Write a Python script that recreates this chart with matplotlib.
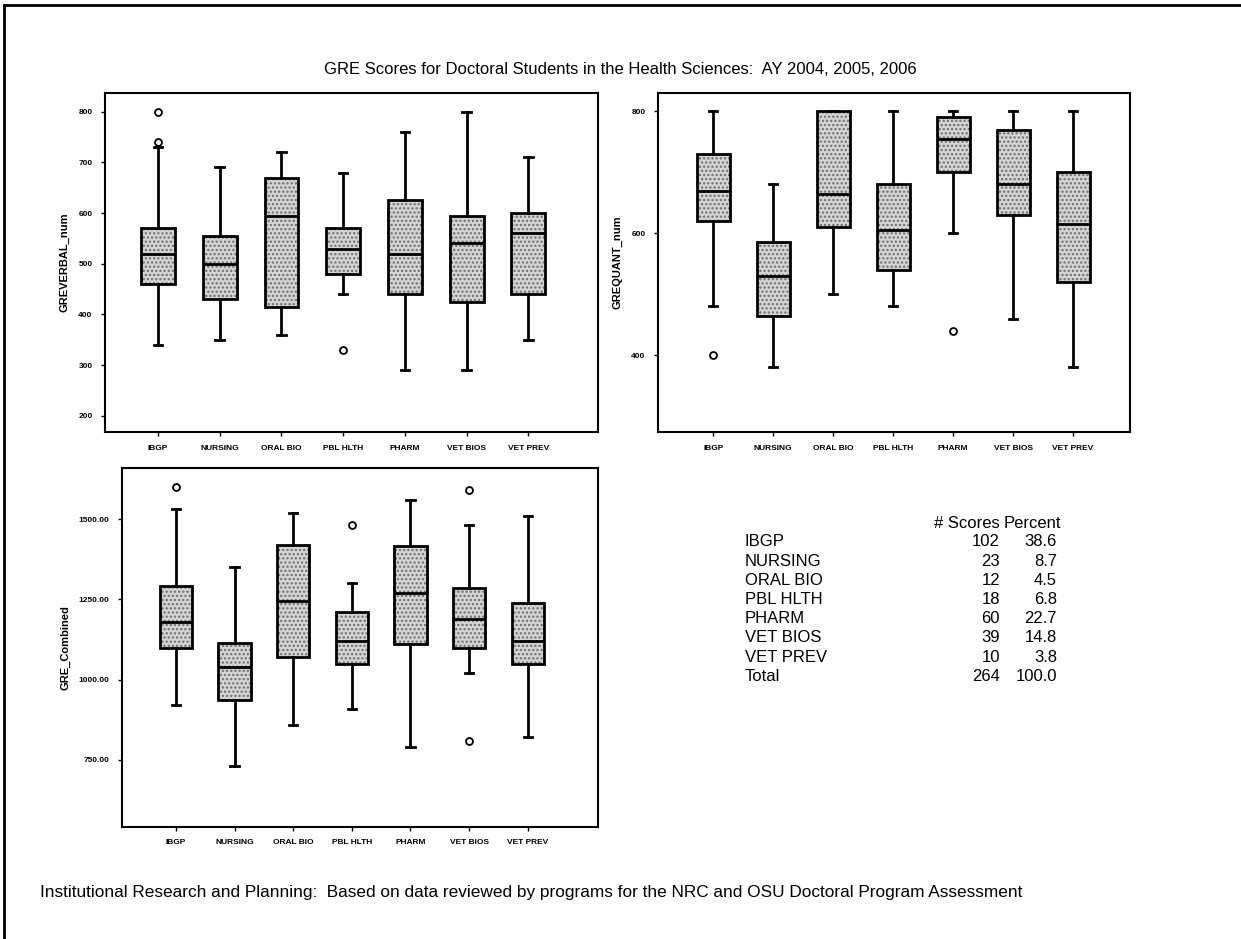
import matplotlib
matplotlib.use("Agg")
import matplotlib.pyplot as plt
from matplotlib.patches import PathPatch
from matplotlib.lines import Line2D

plt.rcParams['font.family'] = ['Liberation Sans', 'DejaVu Sans']
plt.rcParams['hatch.linewidth'] = 1.1

programs = ["IBGP", "NURSING", "ORAL BIO", "PBL HLTH", "PHARM", "VET BIOS", "VET PREV"]

# GRE Verbal: whisker low, Q1, median, Q3, whisker high, outliers
verbal_low = [340, 350, 360, 440, 290, 290, 350]
verbal_q1 = [460, 430, 415, 480, 440, 425, 440]
verbal_med = [520, 500, 595, 530, 520, 540, 560]
verbal_q3 = [570, 555, 670, 570, 625, 595, 600]
verbal_high = [730, 690, 720, 680, 760, 800, 710]
verbal_out = [[740, 800], [], [], [330], [], [], []]

# GRE Quantitative
quant_low = [480, 380, 500, 480, 600, 460, 380]
quant_q1 = [620, 465, 610, 540, 700, 630, 520]
quant_med = [670, 530, 665, 605, 755, 680, 615]
quant_q3 = [730, 585, 800, 680, 790, 770, 700]
quant_high = [800, 680, 800, 800, 800, 800, 800]
quant_out = [[400], [], [], [], [440], [], []]

# GRE Combined
comb_low = [920, 730, 860, 910, 790, 1020, 820]
comb_q1 = [1100, 935, 1070, 1050, 1110, 1100, 1050]
comb_med = [1180, 1040, 1245, 1120, 1270, 1190, 1120]
comb_q3 = [1290, 1115, 1420, 1210, 1415, 1285, 1240]
comb_high = [1530, 1350, 1520, 1300, 1560, 1480, 1510]
comb_out = [[1600], [], [], [1480], [], [1590, 810], []]

# Table
table_names = ["IBGP", "NURSING", "ORAL BIO", "PBL HLTH", "PHARM", "VET BIOS", "VET PREV", "Total"]
table_counts = ["102", "23", "12", "18", "60", "39", "10", "264"]
table_pct = ["38.6", "8.7", "4.5", "6.8", "22.7", "14.8", "3.8", "100.0"]

title = "GRE Scores for Doctoral Students in the Health Sciences:  AY 2004, 2005, 2006"
footer = ("Institutional Research and Planning:  Based on data reviewed by programs "
          "for the NRC and OSU Doctoral Program Assessment")

W, H = 1241, 939
fig = plt.figure(figsize=(W / 100, H / 100), dpi=100)


def ax_px(x0, y0, x1, y1):
    return fig.add_axes([x0 / W, 1 - y1 / H, (x1 - x0) / W, (y1 - y0) / H])


def draw_box(ax, low, q1, med, q3, high, outs, ylabel, yticks, ytl, ylim, xlim):
    stats = []
    for i, name in enumerate(programs):
        stats.append(dict(label=name, whislo=low[i], q1=q1[i], med=med[i],
                          q3=q3[i], whishi=high[i], fliers=outs[i]))
    res = ax.bxp(stats, positions=range(1, len(programs) + 1), widths=0.55,
                 patch_artist=True, showfliers=True, capwidths=0.14,
                 boxprops=dict(facecolor='#d4d4d4', edgecolor='#6e6e6e', linewidth=0),
                 whiskerprops=dict(color='black', linewidth=2),
                 capprops=dict(color='black', linewidth=2),
                 medianprops=dict(color='black', linewidth=2),
                 flierprops=dict(marker='o', markerfacecolor='white',
                                 markeredgecolor='black', markersize=5,
                                 markeredgewidth=1.3))
    for b in res['boxes']:
        b.set_hatch('....')
        b.set_zorder(2)
        ax.add_patch(PathPatch(b.get_path(), fill=False, edgecolor='black',
                               linewidth=2, zorder=3))
    for m in res['medians']:
        m.set_zorder(4)
    ax.set_xlim(*xlim)
    ax.set_ylim(*ylim)
    ax.set_yticks(yticks)
    ax.set_yticklabels(ytl, fontsize=6, fontweight='bold')
    ax.set_xticks(range(1, len(programs) + 1))
    ax.set_xticklabels(programs, fontsize=6, fontweight='bold')
    ax.tick_params(axis='both', length=3, width=1, pad=6)
    ax.set_ylabel(ylabel, fontsize=8, fontweight='bold', labelpad=6)
    for s in ax.spines.values():
        s.set_linewidth(1.5)


ax1 = ax_px(105, 93, 598, 432)
draw_box(ax1, verbal_low, verbal_q1, verbal_med, verbal_q3, verbal_high, verbal_out,
         "GREVERBAL_num", [200, 300, 400, 500, 600, 700, 800],
         ["200", "300", "400", "500", "600", "700", "800"], (168, 837), (0.14, 8.13))

ax2 = ax_px(658, 93, 1130, 432)
draw_box(ax2, quant_low, quant_q1, quant_med, quant_q3, quant_high, quant_out,
         "GREQUANT_num", [400, 600, 800], ["400", "600", "800"], (274, 830), (0.08, 7.95))

ax3 = ax_px(122, 468, 598, 827)
draw_box(ax3, comb_low, comb_q1, comb_med, comb_q3, comb_high, comb_out,
         "GRE_Combined", [750, 1000, 1250, 1500],
         ["750.00", "1000.00", "1250.00", "1500.00"], (541, 1659), (0.08, 8.2))

# Title and footer
fig.text(620 / W, 1 - 70 / H, title, ha='center', va='center', fontsize=12)
fig.text(40 / W, 1 - 892 / H, footer, ha='left', va='center', fontsize=12.4)

# Table
fs = 12
fig.text(1000 / W, 1 - 523 / H, "# Scores", ha='right', va='center', fontsize=fs)
fig.text(1061 / W, 1 - 523 / H, "Percent", ha='right', va='center', fontsize=fs)
for i, (n, c, p) in enumerate(zip(table_names, table_counts, table_pct)):
    y = 1 - (542 + i * 19.2) / H
    fig.text(745 / W, y, n, ha='left', va='center', fontsize=fs)
    fig.text(1000 / W, y, c, ha='right', va='center', fontsize=fs)
    fig.text(1057 / W, y, p, ha='right', va='center', fontsize=fs)

# Page border (top and left edges)
fig.add_artist(Line2D([4 / W, 1], [1 - 5 / H, 1 - 5 / H], color='black', linewidth=2,
                      transform=fig.transFigure))
fig.add_artist(Line2D([4 / W, 4 / W], [0, 1 - 5 / H], color='black', linewidth=2,
                      transform=fig.transFigure))

fig.savefig("out.png", dpi=100)
